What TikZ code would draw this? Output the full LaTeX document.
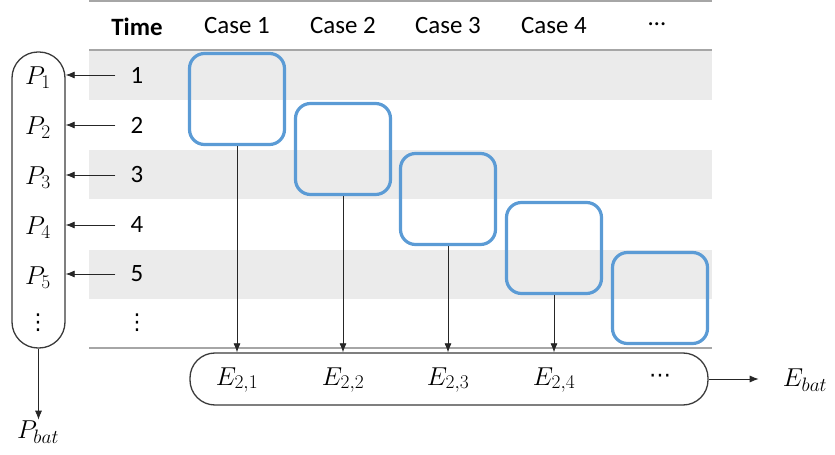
\RequirePackage{fix-cm}
\documentclass[tikz,border=0pt]{standalone}
\usepackage{fontspec}
\setmainfont{Carlito}
\newfontfamily\symfont{DejaVu Sans}
\DeclareMathSizes{26}{26}{19.5}{15}
\usetikzlibrary{arrows.meta}
\definecolor{band}{HTML}{EBEBEB}
\definecolor{rule}{HTML}{A6A6A6}
\definecolor{casecol}{HTML}{5B9BD5}
\definecolor{pill}{HTML}{3A3A3A}
\begin{document}
\begin{tikzpicture}[x=1bp,y=-1bp,
  hdr/.style={font=\fontsize{25}{25}\selectfont, anchor=center},
  num/.style={font=\fontsize{25}{25}\selectfont, anchor=center, inner sep=1bp},
  mth/.style={font=\fontsize{26}{26}\selectfont, anchor=center, inner sep=1bp},
  dots/.style={font=\fontsize{22}{22}\symfont, anchor=center, inner sep=0pt},
  casebox/.style={draw=casecol, line width=3.2bp, rounded corners=15bp, minimum width=95bp, minimum height=91bp, inner sep=0pt},
  pillbox/.style={draw=pill, line width=1.3bp, inner sep=0pt},
  arr/.style={-{Latex[length=9bp,width=7bp]}, line width=0.8bp, draw=black!85}]
\useasboundingbox (0,0) rectangle (835,455);

% row bands
\foreach \y in {51,150,250} {
  \fill[band] (89,\y) rectangle (712,\y+49);
}
% table rules
\draw[rule, line width=2bp] (89,1.5) -- (712,1.5);
\draw[rule, line width=2bp] (89,50) -- (712,50);
\draw[rule, line width=2bp] (89,348) -- (712,348);

% header
\node[hdr, font=\fontsize{25}{25}\selectfont\bfseries] (time) at (137,27) {Time};
\node[hdr] (c1) at (237,26) {Case 1};
\node[hdr] (c2) at (343,26) {Case 2};
\node[hdr] (c3) at (448,26) {Case 3};
\node[hdr] (c4) at (554,26) {Case 4};
\node[hdr] (c5) at (657,24) {…};

% time steps
\node[num] (t1) at (137,75) {1};
\node[num] (t2) at (137,125) {2};
\node[num] (t3) at (137,175) {3};
\node[num] (t4) at (137,225) {4};
\node[num] (t5) at (137,274) {5};
\node[dots] (t6) at (137,323) {⋮};

% case windows
\node[casebox] (b1) at (237,99) {};
\node[casebox] (b2) at (343,149) {};
\node[casebox] (b3) at (448,199) {};
\node[casebox] (b4) at (554,248) {};
\node[casebox] (b5) at (660,298) {};

% power column
\node[pillbox, rounded corners=26bp, minimum width=53bp, minimum height=296bp] (ppill) at (38.5,200) {};
\node[mth] (p1) at (38,78) {$P_1$};
\node[mth] (p2) at (38,128) {$P_2$};
\node[mth] (p3) at (38,178) {$P_3$};
\node[mth] (p4) at (38,228) {$P_4$};
\node[mth] (p5) at (38,278) {$P_5$};
\node[dots] (p6) at (38,323) {⋮};
\foreach \i in {1,...,5} {
  \draw[arr] (t\i.west) ++(-14,0) coordinate (ts\i) -- (ts\i -| ppill.east);
}
\node[mth] (pbat) at (38,432) {$P_{bat}$};
\draw[arr] (ppill.south) -- (ppill.south |- pbat.north);

% energy row
\node[pillbox, rounded corners=25bp, minimum width=518bp, minimum height=52bp] (epill) at (449,379) {};
\node[mth] (e1) at (237,380) {$E_{2,1}$};
\node[mth] (e2) at (343,380) {$E_{2,2}$};
\node[mth] (e3) at (448,380) {$E_{2,3}$};
\node[mth] (e4) at (554,380) {$E_{2,4}$};
\node[dots] (e5) at (660,378) {⋯};
\foreach \i in {1,2,3,4} {
  \draw[arr] (b\i.south) -- (b\i.south |- epill.north);
}
\node[mth] (ebat) at (805,380) {$E_{bat}$};
\draw[arr] (epill.east) -- ++(50,0) coordinate (eend);
\end{tikzpicture}
\end{document}
